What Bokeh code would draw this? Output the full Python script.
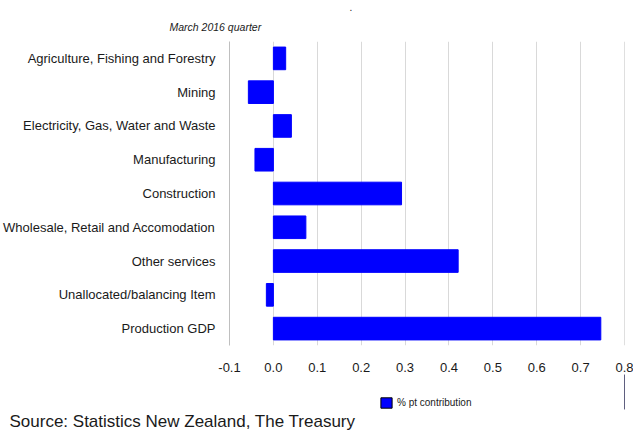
from bokeh.plotting import figure
from bokeh.models import (FactorRange, Range1d, FixedTicker, Legend,
                          LegendItem, Span, ColumnDataSource, Title)
from bokeh.layouts import column
from bokeh.embed import file_html
from bokeh.resources import INLINE

categories = [
    "Agriculture, Fishing and Forestry",
    "Mining",
    "Electricity, Gas, Water and Waste",
    "Manufacturing",
    "Construction",
    "Wholesale, Retail and Accomodation",
    "Other services",
    "Unallocated/balancing Item",
    "Production GDP",
]
contribution = [0.028, -0.057, 0.041, -0.042, 0.292, 0.074, 0.421, -0.016, 0.746]
x_ticks = [-0.1, 0.0, 0.1, 0.2, 0.3, 0.4, 0.5, 0.6, 0.7, 0.8]
x_tick_labels = ["-0.1", "0.0", "0.1", "0.2", "0.3", "0.4", "0.5", "0.6", "0.7", "0.8"]
title_text = "March 2016 quarter"
series_name = "% pt contribution"
source_text = "Source: Statistics New Zealand, The Treasury"

FONT = "Liberation Sans"
TEXT_COLOR = "#1a1a1a"
BLUE = "#0000ff"
W = 633

# ---- main chart
p = figure(width=W, height=374,
           y_range=FactorRange(factors=categories[::-1], range_padding=0),
           x_range=Range1d(-0.1, 0.8),
           output_backend="svg", toolbar_location=None,
           min_border_left=220, min_border_right=9,
           min_border_top=41, min_border_bottom=24)
p.outline_line_color = None

src = ColumnDataSource(dict(cat=categories, val=contribution))
p.hbar(y="cat", left=0, right="val", height=0.67, source=src,
       fill_color=BLUE, line_color=BLUE, line_width=1)

p.ygrid.grid_line_color = None
p.xgrid.grid_line_color = "#d9d9d9"
p.xgrid.ticker = FixedTicker(ticks=x_ticks)
p.add_layout(Span(location=0.8, dimension="height", line_color="#bfbfbf", line_width=1))

p.xaxis.ticker = FixedTicker(ticks=x_ticks)
p.xaxis.major_label_overrides = dict(zip(x_ticks, x_tick_labels))
p.xaxis.axis_line_color = None
p.xaxis.major_tick_line_color = None
p.xaxis.minor_tick_line_color = None
p.xaxis.major_label_text_font = FONT
p.xaxis.major_label_text_font_size = "13px"
p.xaxis.major_label_text_color = TEXT_COLOR
p.xaxis.major_label_standoff = 11

p.yaxis.axis_line_color = "#bfbfbf"
p.yaxis.major_tick_line_color = None
p.yaxis.minor_tick_line_color = None
p.yaxis.major_label_text_font = FONT
p.yaxis.major_label_text_font_size = "13px"
p.yaxis.major_label_text_color = TEXT_COLOR
p.yaxis.major_label_standoff = 8

# outermost title: the stray dot
p.title.text = "."
p.title.align = "left"
p.title.offset = 120
p.title.standoff = 0
p.title.text_font = FONT
p.title.text_font_size = "10px"
p.title.text_font_style = "normal"
p.title.text_color = TEXT_COLOR

# chart title (nearest the frame)
p.add_layout(Title(text=title_text, align="left", offset=-60, standoff=17,
                   text_font=FONT, text_font_style="italic",
                   text_font_size="10.5px", text_color=TEXT_COLOR), "above")

# ---- bottom strip: legend and source
bot = figure(width=W, height=56, x_range=Range1d(0, 1), y_range=Range1d(0, 1),
             x_axis_location=None, y_axis_location=None,
             output_backend="svg", toolbar_location=None,
             min_border_left=220, min_border_right=9,
             min_border_top=0, min_border_bottom=0)
bot.title.text = ""
bot.title.visible = False
bot.grid.visible = False
bot.outline_line_color = None

# legend swatch source: a bar placed outside the strip's visible range
legend_bar = bot.hbar(y=[0.5], left=[5], right=[6], height=1,
                      fill_color=BLUE, line_color="black", line_width=1)
legend = Legend(items=[LegendItem(label=series_name, renderers=[legend_bar])],
                location=(150, 0), orientation="horizontal",
                padding=0, margin=0, spacing=0,
                border_line_color=None, background_fill_alpha=0,
                glyph_width=14, glyph_height=13, label_height=13,
                label_standoff=4, label_text_font=FONT,
                label_text_font_size="10px", label_text_color=TEXT_COLOR)
bot.add_layout(legend)

bot.add_layout(Title(text=source_text, align="left", offset=-220, standoff=0,
                     text_font=FONT, text_font_style="normal",
                     text_font_size="17px", text_color=TEXT_COLOR), "below")

layout = column(p, bot, spacing=0)
open("out.html", "w").write(file_html(layout, INLINE))
